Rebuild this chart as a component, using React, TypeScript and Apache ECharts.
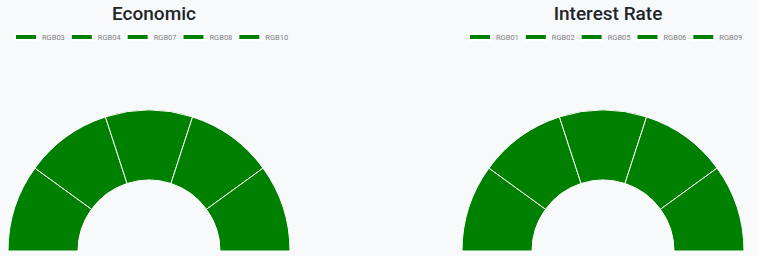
import React, { useEffect, useRef } from "react";
import * as echarts from "echarts";

// Economic indicator group
const economicNames = ["RGB03", "RGB04", "RGB07", "RGB08", "RGB10"];
const economicValues = [1, 1, 1, 1, 1];

// Interest-rate indicator group
const interestNames = ["RGB01", "RGB02", "RGB05", "RGB06", "RGB09"];
const interestValues = [1, 1, 1, 1, 1];

const titles = ["Economic", "Interest Rate"];
const sliceColor = "#008000";

export default function App() {
  const ref = useRef<HTMLDivElement>(null);

  useEffect(() => {
    if (!ref.current) return;
    const chart = echarts.init(ref.current, undefined, { renderer: "svg" });

    const groups = [
      { names: economicNames, values: economicValues, cx: 149 },
      { names: interestNames, values: interestValues, cx: 603 },
    ];

    chart.setOption({
      animation: false,
      backgroundColor: "#f8f9fb",
      title: groups.map((g, i) => ({
        text: titles[i],
        left: g.cx,
        top: -1,
        textAlign: "center",
        textStyle: {
          fontFamily: "Roboto",
          fontSize: 19,
          fontWeight: 500,
          color: "#212529",
        },
      })),
      legend: groups.map((g, i) => ({
        data: g.names,
        seriesIndex: i,
        left: g.cx - 140,
        width: 290,
        top: 28,
        itemWidth: 22,
        itemHeight: 6,
        itemGap: 5,
        icon: "rect",
        textStyle: { fontFamily: "Roboto", fontSize: 7.5, color: "#808080" },
      })),
      series: groups.map((g) => ({
        type: "pie",
        center: [g.cx, 251],
        radius: [71, 141],
        startAngle: 180,
        endAngle: 360,
        label: { show: false },
        labelLine: { show: false },
        silent: true,
        itemStyle: { color: sliceColor, borderColor: "#ffffff", borderWidth: 1 },
        data: g.names.map((n, k) => ({ name: n, value: g.values[k] })),
      })),
    });

    return () => chart.dispose();
  }, []);

  return (
    <div
      ref={ref}
      style={{ position: "fixed", left: 0, top: 0, width: 758, height: 256 }}
    />
  );
}
